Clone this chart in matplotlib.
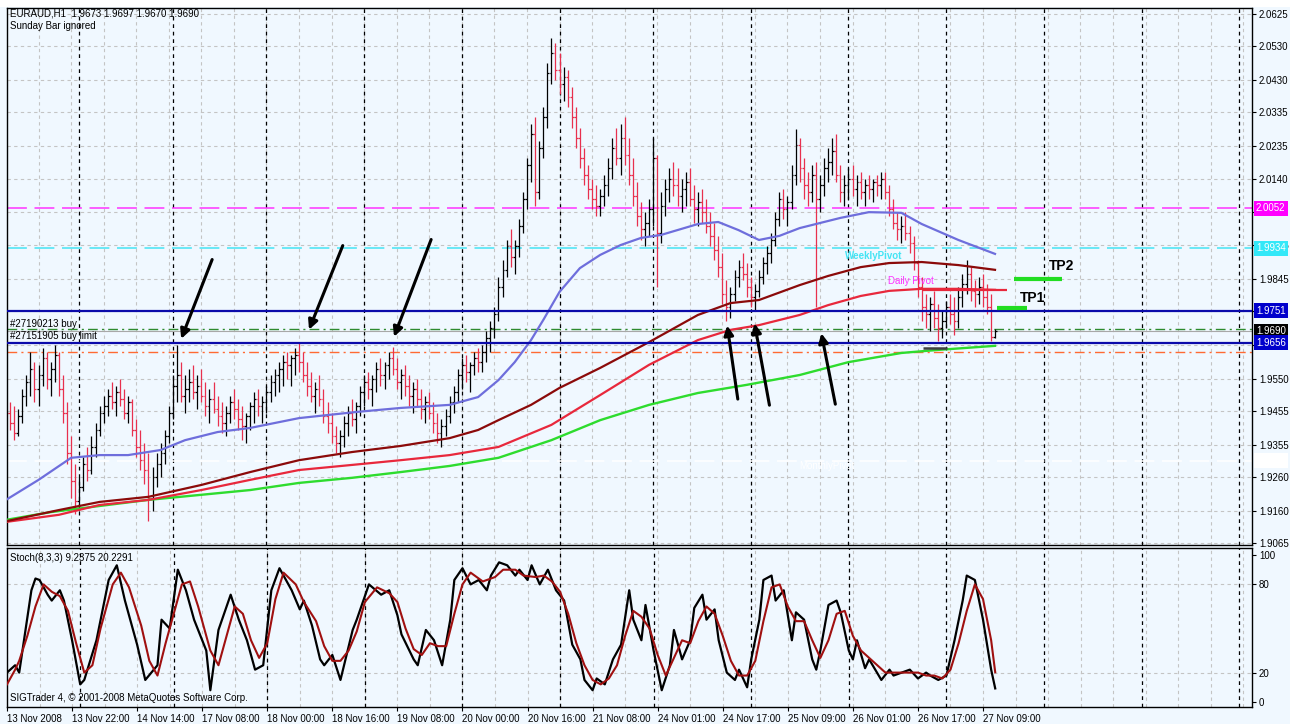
import numpy as np
import matplotlib.pyplot as plt
from matplotlib import transforms
from matplotlib.patches import Rectangle

plt.rcParams['font.family'] = ['Liberation Sans', 'DejaVu Sans']
plt.rcParams['font.size'] = 7

# ---- EURAUD H1 bars, in pips above 1.9000 (price = 1.9 + pips / 10000) ----
high_pips = [
    500, 480, 470, 460, 520, 560, 630, 600, 590, 640, 630, 600, 650, 630, 560, 480,
    380, 300, 260, 320, 350, 380, 420, 470, 500, 520, 540, 530, 550, 520, 500, 490,
    430, 400, 360, 330, 290, 330, 360, 400, 470, 560, 650, 600, 560, 580, 590, 560,
    580, 540, 520, 540, 500, 480, 470, 500, 520, 490, 470, 450, 480, 510, 520, 500,
    530, 560, 580, 600, 620, 630, 620, 640, 655, 630, 600, 570, 540, 560, 520, 480,
    450, 410, 400, 440, 470, 490, 480, 530, 560, 570, 560, 600, 610, 600, 630, 645,
    610, 580, 590, 560, 540, 550, 520, 500, 510, 480, 450, 430, 460, 500, 530, 580,
    610, 620, 600, 630, 640, 650, 690, 720, 760, 850, 900, 960, 990, 960, 1020, 1100,
    1200, 1300, 1320, 1250, 1350, 1480, 1555, 1540, 1510, 1470, 1460, 1410, 1350, 1290, 1230, 1180,
    1140, 1120, 1110, 1150, 1200, 1260, 1290, 1300, 1320, 1260, 1200, 1130, 1070, 1040, 1080, 1260,
    1210, 1100, 1140, 1170, 1190, 1170, 1140, 1160, 1170, 1120, 1100, 1110, 1080, 1040, 1010, 970,
    920, 840, 820, 870, 900, 920, 890, 850, 830, 870, 910, 940, 980, 1040, 1100, 1110,
    1090, 1180, 1285, 1260, 1200, 1160, 1180, 1190, 1150, 1200, 1230, 1260, 1270, 1180, 1150, 1170,
    1180, 1150, 1160, 1140, 1150, 1140, 1150, 1160, 1160, 1120, 1080, 1040, 1030, 1040, 1000, 970,
    900, 850, 800, 790, 810, 770, 750, 780, 800, 790, 820, 860, 900, 880, 840, 850,
    860, 830, 800, 697]
low_pips = [
    430, 400, 370, 380, 420, 470, 500, 480, 470, 530, 520, 500, 540, 500, 420, 300,
    200, 150, 160, 220, 250, 270, 320, 380, 420, 440, 460, 440, 470, 430, 420, 380,
    320, 280, 240, 130, 160, 230, 260, 300, 360, 430, 480, 480, 450, 480, 490, 460,
    480, 440, 420, 450, 410, 390, 380, 420, 430, 400, 370, 360, 400, 420, 440, 420,
    450, 480, 500, 510, 530, 550, 530, 560, 570, 540, 500, 480, 450, 470, 420, 390,
    360, 330, 320, 350, 380, 410, 390, 440, 470, 490, 470, 510, 530, 520, 550, 560,
    520, 490, 500, 470, 450, 470, 430, 420, 430, 390, 360, 350, 380, 420, 450, 480,
    520, 540, 510, 560, 570, 570, 600, 630, 670, 720, 790, 850, 880, 860, 910, 980,
    1050, 1130, 1060, 1080, 1200, 1290, 1420, 1430, 1390, 1370, 1350, 1290, 1230, 1170, 1120, 1080,
    1050, 1030, 1030, 1060, 1090, 1140, 1180, 1150, 1180, 1120, 1060, 1000, 960, 940, 970, 1000,
    820, 950, 1030, 1070, 1090, 1060, 1040, 1060, 1060, 1010, 1000, 1010, 980, 940, 900, 850,
    770, 720, 730, 780, 820, 840, 790, 760, 750, 790, 830, 860, 890, 940, 1000, 1020,
    1000, 1050, 1120, 1130, 1080, 1060, 1070, 760, 1040, 1090, 1130, 1150, 1130, 1070, 1060, 1080,
    1090, 1060, 1080, 1060, 1080, 1070, 1090, 1080, 1080, 1030, 990, 960, 950, 960, 920, 870,
    790, 720, 700, 690, 700, 660, 670, 700, 710, 680, 700, 760, 800, 780, 760, 770,
    760, 740, 660, 670]
open_pips = [
    470, 450, 420, 390, 440, 500, 540, 580, 520, 560, 610, 550, 580, 620, 520, 450,
    330, 250, 190, 230, 300, 280, 350, 400, 450, 470, 500, 480, 510, 490, 450, 480,
    400, 350, 310, 280, 200, 260, 300, 330, 380, 450, 530, 560, 500, 520, 540, 510,
    530, 500, 470, 490, 460, 440, 420, 450, 480, 460, 430, 410, 440, 470, 490, 470,
    480, 510, 540, 560, 580, 600, 590, 610, 620, 600, 560, 530, 500, 520, 490, 440,
    420, 380, 360, 380, 420, 450, 430, 470, 510, 540, 520, 550, 580, 560, 590, 610,
    580, 540, 560, 530, 500, 520, 490, 460, 480, 450, 420, 390, 410, 440, 480, 510,
    560, 590, 570, 590, 610, 600, 630, 670, 700, 740, 820, 870, 940, 910, 940, 1000,
    1080, 1180, 1270, 1100, 1230, 1320, 1450, 1510, 1460, 1420, 1440, 1380, 1320, 1260, 1200, 1150,
    1110, 1080, 1060, 1090, 1120, 1170, 1230, 1200, 1260, 1210, 1150, 1090, 1030, 990, 1010, 1050,
    1200, 980, 1060, 1110, 1140, 1120, 1090, 1110, 1130, 1080, 1050, 1070, 1040, 1000, 970, 930,
    880, 800, 760, 800, 850, 880, 860, 820, 790, 810, 850, 890, 920, 960, 1020, 1080,
    1050, 1070, 1150, 1240, 1170, 1120, 1100, 1150, 1080, 1120, 1170, 1190, 1220, 1150, 1100, 1120,
    1140, 1110, 1130, 1100, 1120, 1110, 1130, 1120, 1140, 1100, 1050, 1010, 990, 1000, 980, 950,
    890, 820, 760, 740, 770, 730, 700, 720, 760, 740, 720, 790, 830, 860, 810, 800,
    820, 790, 760, 673]
close_pips = [
    450, 420, 390, 440, 500, 540, 580, 520, 560, 610, 550, 580, 620, 520, 450, 330,
    250, 190, 230, 300, 280, 350, 400, 450, 470, 500, 480, 510, 490, 450, 480, 400,
    350, 310, 280, 200, 260, 300, 330, 380, 450, 530, 560, 500, 520, 540, 510, 530,
    500, 470, 490, 460, 440, 420, 450, 480, 460, 430, 410, 440, 470, 490, 470, 480,
    510, 540, 560, 580, 600, 590, 610, 620, 600, 560, 530, 500, 520, 490, 440, 420,
    380, 360, 380, 420, 450, 430, 470, 510, 540, 520, 550, 580, 560, 590, 610, 580,
    540, 560, 530, 500, 520, 490, 460, 480, 450, 420, 390, 410, 440, 480, 510, 560,
    590, 570, 590, 610, 600, 630, 670, 700, 740, 820, 870, 940, 910, 940, 1000, 1080,
    1180, 1270, 1100, 1230, 1320, 1450, 1510, 1460, 1420, 1440, 1380, 1320, 1260, 1200, 1150, 1110,
    1080, 1060, 1090, 1120, 1170, 1230, 1200, 1260, 1210, 1150, 1090, 1030, 990, 1010, 1050, 1200,
    980, 1060, 1110, 1140, 1120, 1090, 1110, 1130, 1080, 1050, 1070, 1040, 1000, 970, 930, 880,
    800, 760, 800, 850, 880, 860, 820, 790, 810, 850, 890, 920, 960, 1020, 1080, 1050,
    1070, 1150, 1240, 1170, 1120, 1100, 1150, 1080, 1120, 1170, 1190, 1220, 1150, 1100, 1120, 1140,
    1110, 1130, 1100, 1120, 1110, 1130, 1120, 1140, 1100, 1050, 1010, 990, 1000, 980, 950, 890,
    820, 760, 740, 770, 730, 700, 720, 760, 740, 720, 790, 830, 860, 810, 800, 820,
    790, 760, 673, 690]

# ---- moving averages, (bar index, price) points ----
blue_ma_bar = [0, 8, 16, 23, 30, 38, 44, 52, 60, 72, 86, 97, 109, 116, 121, 125, 129, 132,
               136, 141, 146, 151, 156, 161, 170, 175, 180, 185, 190, 195, 205, 212, 220,
               225, 234, 243]
blue_ma = [1.9193, 1.9252, 1.9317, 1.9325, 1.9325, 1.9340, 1.9369, 1.9393, 1.9405, 1.9434,
           1.9452, 1.9464, 1.9473, 1.9496, 1.9546, 1.9599, 1.9664, 1.9723, 1.9806, 1.9876,
           1.9915, 1.9944, 1.9965, 1.9974, 2.0006, 2.0012, 1.9988, 1.9959, 1.9971, 1.9994,
           2.0024, 2.0041, 2.0039, 2.0006, 1.9959, 1.9918]
maroon_ma_bar = [0, 13, 23, 35, 48, 60, 72, 85, 97, 109, 116, 121, 129, 136, 146, 158, 170,
                 178, 185, 195, 202, 210, 217, 225, 234, 243]
maroon_ma = [1.9130, 1.9163, 1.9187, 1.9202, 1.9237, 1.9275, 1.9310, 1.9334, 1.9352, 1.9375,
             1.9399, 1.9428, 1.9473, 1.9523, 1.9582, 1.9658, 1.9738, 1.9773, 1.9782, 1.9826,
             1.9853, 1.9879, 1.9891, 1.9894, 1.9885, 1.9871]
red_ma_bar = [0, 13, 23, 35, 48, 60, 72, 85, 97, 109, 121, 134, 146, 158, 170, 178, 185, 195,
              202, 210, 217, 225, 234, 243]
red_ma = [1.9128, 1.9149, 1.9178, 1.9193, 1.9222, 1.9252, 1.9281, 1.9296, 1.9310, 1.9325,
          1.9349, 1.9414, 1.9502, 1.9591, 1.9664, 1.9694, 1.9708, 1.9738, 1.9767, 1.9794,
          1.9809, 1.9815, 1.9815, 1.9812]
green_ma_bar = [0, 11, 23, 35, 48, 60, 72, 85, 97, 109, 121, 134, 146, 158, 170, 182, 195,
                207, 220, 229, 243]
green_ma = [1.9134, 1.9157, 1.9175, 1.9193, 1.9208, 1.9222, 1.9243, 1.9258, 1.9275, 1.9293,
            1.9317, 1.9369, 1.9428, 1.9473, 1.9508, 1.9532, 1.9561, 1.9599, 1.9626, 1.9635,
            1.9647]

# ---- stochastic (8,3,3), (bar index, value) points ----
stoch_k_bar = [0, 2, 3, 6, 7, 8, 10, 11, 13, 14, 16, 18, 19, 22, 25, 27, 29, 32, 34, 37, 38,
               40, 42, 44, 46, 49, 50, 52, 55, 57, 59, 61, 63, 65, 67, 70, 72, 73, 75, 77, 78,
               80, 82, 85, 86, 89, 92, 94, 96, 97, 100, 101, 103, 105, 107, 109, 110, 112, 114,
               116, 118, 119, 121, 123, 125, 126, 128, 129, 131, 133, 135, 137, 139, 141, 142,
               144, 145, 147, 149, 151, 153, 154, 156, 157, 159, 161, 163, 164, 166, 168, 169,
               171, 172, 174, 175, 177, 179, 180, 182, 183, 185, 186, 188, 189, 191, 193, 194,
               196, 198, 199, 200, 202, 204, 205, 207, 208, 209, 211, 212, 215, 217, 218, 220,
               222, 224, 226, 227, 229, 231, 233, 235, 236, 238, 240, 242, 243]
stoch_k = [20, 25, 20, 76, 84, 83, 73, 69, 76, 69, 42, 12, 15, 42, 83, 93, 69, 39, 15, 25, 56,
           50, 90, 76, 56, 35, 8, 49, 73, 56, 42, 22, 25, 76, 91, 76, 63, 69, 52, 29, 25,
           32, 15, 49, 56, 80, 73, 76, 59, 46, 29, 25, 49, 42, 25, 56, 83, 91, 80,
           83, 76, 86, 95, 93, 86, 90, 83, 93, 80, 90, 76, 69, 39, 29, 15,
           8, 16, 12, 29, 39, 76, 56, 42, 66, 35, 8, 25, 49, 29, 42, 64,
           73, 56, 63, 42, 20, 15, 22, 10, 29, 56, 83, 86, 69, 76, 42, 61,
           56, 29, 22, 35, 66, 69, 61, 35, 29, 42, 23, 29, 15, 22, 18, 20,
           22, 16, 20, 18, 15, 18, 42, 69, 86, 83, 56, 22, 9.2375]
stoch_d_bar = [0, 2, 3, 5, 7, 9, 11, 13, 15, 17, 19, 21, 23, 26, 28, 30, 33, 35, 37, 39, 41,
               43, 45, 47, 50, 52, 54, 56, 58, 60, 62, 64, 66, 68, 71, 73, 76, 78, 80, 82, 84,
               86, 88, 91, 94, 96, 98, 100, 102, 104, 106, 108, 110, 112, 114, 117, 120, 122,
               125, 127, 130, 132, 134, 136, 138, 140, 142, 144, 146, 148, 150, 152, 154, 156,
               158, 160, 162, 164, 166, 168, 170, 172, 174, 176, 178, 180, 182, 184, 186, 188,
               190, 192, 194, 196, 198, 200, 202, 204, 206, 208, 210, 212, 214, 216, 218, 220,
               222, 224, 226, 228, 230, 232, 234, 236, 238, 240, 242, 243]
stoch_d = [12, 22, 28, 45, 65, 80, 75, 72, 62, 40, 20, 25, 50, 80, 88, 78, 52, 28, 18, 40, 60,
           80, 82, 65, 35, 25, 45, 65, 60, 42, 30, 40, 70, 88, 80, 68, 55, 38, 28, 28, 35,
           48, 68, 78, 74, 68, 50, 36, 32, 40, 38, 38, 60, 80, 88, 82, 85, 90,
           90, 86, 85, 86, 82, 75, 60, 40, 25, 15, 12, 16, 25, 45, 62, 58,
           50, 32, 18, 30, 42, 40, 55, 65, 60, 45, 28, 18, 18, 28, 55, 78,
           80, 65, 55, 55, 42, 30, 42, 60, 62, 45, 35, 30, 25, 20, 20, 20,
           20, 20, 18, 18, 16, 22, 40, 62, 80, 70, 42, 20.2291]

# ---- axis labels / levels ----
price_ticks = [2.0625, 2.0530, 2.0430, 2.0335, 2.0235, 2.0140, 2.0040, 1.9945, 1.9845,
               1.9750, 1.9650, 1.9550, 1.9455, 1.9355, 1.9260, 1.9160, 1.9065]
hidden_price_labels = [1.9750, 1.9650]   # covered by the order-level boxes
time_label_bars = [0, 16, 32, 48, 64, 80, 96, 112, 128, 144, 160, 176, 192, 208, 224, 240]
time_labels = ['13 Nov 2008', '13 Nov 22:00', '14 Nov 14:00', '17 Nov 08:00', '18 Nov 00:00',
               '18 Nov 16:00', '19 Nov 08:00', '20 Nov 00:00', '20 Nov 16:00', '21 Nov 08:00',
               '24 Nov 01:00', '24 Nov 17:00', '25 Nov 09:00', '26 Nov 01:00', '26 Nov 17:00',
               '27 Nov 09:00']
day_separator_bars = [18, 41, 64, 88, 112, 136, 159, 183, 207, 231, 255, 279, 303]
stoch_ticks = [100, 80, 20, 0]

weekly_pivot = 2.0052
pivot_r = 1.9934
monthly_pivot = 1.9309
tp_line_hi = 1.9751
tp_line_lo = 1.9656
bid_price = 1.9690
buy_price = 1.9697
limit_sl = 1.9629
tp1_price, tp1_bars = 1.9758, (243.5, 250.9)
tp2_price, tp2_bars = 1.9844, (247.7, 259.5)

# arrows: (tail bar, tail price, head bar, head price)
arrows = [(50.9, 1.9909, 42.8, 1.9660),
          (83.0, 1.9950, 74.2, 1.9687),
          (104.7, 1.9968, 95.1, 1.9666),
          (179.9, 1.9482, 177.1, 1.9715),
          (187.7, 1.9464, 183.8, 1.9721),
          (203.9, 1.9467, 200.2, 1.9692)]

# ---- layout (pixel geometry of the reference) ----
W, H = 1294, 724
BAR_PX, X0_PX = 4.07, 6.0
fig = plt.figure(figsize=(W / 100, H / 100), dpi=100, facecolor='white')
fig.patches.append(Rectangle((0, 0), 1290 / W, (H - 7) / H, transform=fig.transFigure,
                             facecolor='#F0F8FF', edgecolor='none', zorder=-10))


def px_axes(l, t, r, b):
    return fig.add_axes([l / W, 1 - b / H, (r - l) / W, (b - t) / H])


ax = px_axes(7, 8, 1252, 545)
ax2 = px_axes(7, 548, 1252, 707)
xlim = ((7 - X0_PX) / BAR_PX, (1252 - X0_PX) / BAR_PX)
for a in (ax, ax2):
    a.set_facecolor('#F0F8FF')
    a.set_xlim(*xlim)
    for s in a.spines.values():
        s.set_color('black')
        s.set_linewidth(1)
ax.set_ylim(2.0625 - (545 - 14) / 3393, 2.0625 + (14 - 8) / 3393)
ax2.set_ylim((702 - 707) / 1.47, (702 - 548) / 1.47)

GRID = dict(color='#C4C4C4', lw=0.8, ls=(0, (3, 3)), zorder=0)
SEP = dict(color='black', lw=0.9, ls=(0, (3, 3)), zorder=0.5)
for a in (ax, ax2):
    for i in range(0, 312, 8):
        a.axvline(i, **GRID)
    for i in day_separator_bars:
        a.axvline(i, **SEP)
for t in price_ticks:
    ax.axhline(t, **GRID)
for t in (80, 20):
    ax2.axhline(t, **GRID)

# right axes ticks
ax.yaxis.tick_right()
ax.set_yticks(price_ticks)
ax.set_yticklabels(['' if t in hidden_price_labels else '%.4f' % t for t in price_ticks])
ax.set_xticks([])
ax.tick_params(axis='y', length=3, pad=2, labelsize=7, direction='out')
ax2.yaxis.tick_right()
ax2.set_yticks(stoch_ticks)
ax2.set_yticklabels([str(t) for t in stoch_ticks])
ax2.tick_params(axis='y', length=3, pad=2, labelsize=7, direction='out')
ax2.set_xticks(time_label_bars)
ax2.set_xticklabels(time_labels, ha='left')
ax2.tick_params(axis='x', length=3, pad=2, labelsize=7, direction='out')

# ---- horizontal levels ----
ax.axhline(weekly_pivot, color='#FF33FF', lw=1.1, ls=(0, (13, 5)), zorder=1)
ax.axhline(pivot_r, color='#44E4F4', lw=1.1, ls=(0, (13, 5)), zorder=1)
ax.axhline(monthly_pivot, color='white', lw=1.1, ls=(0, (13, 5)), zorder=1)
ax.axhline(bid_price, color='#A8A8A8', lw=0.8, zorder=1)
ax.axhline(buy_price, color='#2E8B2E', lw=1.0, ls=(0, (7, 3, 1.5, 3)), zorder=1)
ax.axhline(limit_sl, color='#FF6A33', lw=1.0, ls=(0, (7, 3, 1.5, 3)), zorder=1)
ax.axhline(tp_line_hi, color='#0A0AAA', lw=1.6, zorder=4)
ax.axhline(tp_line_lo, color='#0A0AAA', lw=1.6, zorder=4)

# ---- price bars ----
idx = np.arange(len(close_pips))
hi = 1.9 + np.array(high_pips) / 10000
lo = 1.9 + np.array(low_pips) / 10000
op = 1.9 + np.array(open_pips) / 10000
cl = 1.9 + np.array(close_pips) / 10000
cols = np.where(cl >= op, 'black', '#E8304E')
ax.vlines(idx, lo, hi, colors=cols, lw=0.9, zorder=2)
ax.hlines(op, idx - 0.45, idx, colors=cols, lw=0.9, zorder=2)
ax.hlines(cl, idx, idx + 0.45, colors=cols, lw=0.9, zorder=2)

# ---- moving averages ----
ax.plot(green_ma_bar, green_ma, color='#2EDC2E', lw=1.7, zorder=3)
ax.plot(red_ma_bar, red_ma, color='#E8283C', lw=1.6, zorder=3)
ax.plot(maroon_ma_bar, maroon_ma, color='#8B0A0A', lw=1.6, zorder=3)
ax.plot(blue_ma_bar, blue_ma, color='#6E6EDC', lw=1.6, zorder=3)
ax.hlines(1.9812, 225, 246, color='#E8283C', lw=1.6, zorder=3)
ax.hlines(1.9641, 225.3, 231.2, color='#404040', lw=1.8, zorder=3)

# take profit marks
ax.hlines(tp1_price, *tp1_bars, color='#22DD22', lw=3, zorder=5)
ax.hlines(tp2_price, *tp2_bars, color='#22DD22', lw=3, zorder=5)
ax.text(249.1, 1.9788, 'TP1', fontsize=10, fontweight='bold', va='center', ha='left')
ax.text(256.3, 1.9882, 'TP2', fontsize=10, fontweight='bold', va='center', ha='left')

for tx, ty, hx, hy in arrows:
    ax.annotate('', xy=(hx, hy), xytext=(tx, ty),
                arrowprops=dict(arrowstyle='-|>', color='black', lw=2.2, mutation_scale=14),
                zorder=6)

# ---- chart texts ----
ax.text(206.1, 1.9912, 'WeeklyPivot', color='#44E4F4', fontsize=7, fontweight='bold',
        va='center', ha='left')
ax.text(216.7, 1.9838, 'Daily Pivot', color='#FF33FF', fontsize=7, va='center', ha='left')
ax.text(195.0, 1.9292, 'MonthlyPivot', color='white', fontsize=7, va='center', ha='left')
ax.text(1.0, 1.9711, '#27190213 buy', va='center', ha='left')
ax.text(1.0, 1.9676, '#27151905 buy limit', va='center', ha='left')
ax.text(3 / 1245, 1 - 5 / 537, 'EURAUD,H1  1.9673 1.9697 1.9670 1.9690', transform=ax.transAxes,
        va='center', ha='left')
ax.text(3 / 1245, 1 - 18 / 537, 'Sunday Bar ignored', transform=ax.transAxes,
        va='center', ha='left')
ax2.text(3 / 1245, 1 - 10 / 159, 'Stoch(8,3,3) 9.2375 20.2291', transform=ax2.transAxes,
         va='center', ha='left')
ax2.text(3 / 1245, 9 / 159, 'SIGTrader 4, \u00a9 2001-2008 MetaQuotes Software Corp.',
         transform=ax2.transAxes, va='center', ha='left')

# price boxes on the right scale
box_tr = transforms.offset_copy(ax.get_yaxis_transform(), fig=fig, x=4, y=0, units='dots')
for val, fc in [(weekly_pivot, '#FF00FF'), (pivot_r, '#33E8F8'), (tp_line_hi, '#0000CC'),
                (bid_price, 'black'), (tp_line_lo, '#0000CC'), (monthly_pivot, 'white')]:
    ax.text(1.0, val, '%.4f' % val, transform=box_tr, color='white', va='center', ha='left',
            fontsize=7, clip_on=False, zorder=10,
            bbox=dict(boxstyle='square,pad=0.25', facecolor=fc, edgecolor='none'))

ax2.plot(stoch_k_bar, stoch_k, color='black', lw=1.6, zorder=3)
ax2.plot(stoch_d_bar, stoch_d, color='#A01010', lw=1.5, zorder=3)

fig.savefig('out.png', dpi=100, facecolor=fig.get_facecolor())
